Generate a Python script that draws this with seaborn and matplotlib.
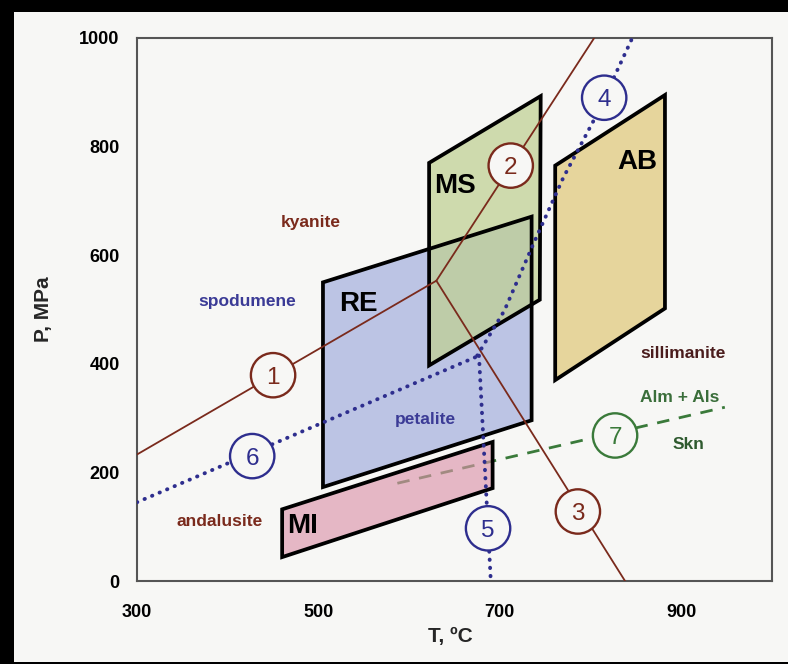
import matplotlib
matplotlib.use("Agg")
import matplotlib.pyplot as plt
from matplotlib.patches import Rectangle
import seaborn as sns
import pandas as pd

# ---- P-T fields (T in degC, P in MPa) ----
re_T = [505, 735, 735, 505]
re_P = [550, 671, 296, 173]
ms_T = [622, 745, 744, 622]
ms_P = [770, 893, 518, 397]
ab_T = [761, 882, 882, 761]
ab_P = [765, 895, 502, 370]
mi_T = [460, 692, 692, 460]
mi_P = [132, 256, 171, 44]

# ---- reaction curves ----
line1_T, line1_P = [300, 630], [233, 553]
line2_T, line2_P = [630, 804], [553, 1000]
line3_T, line3_P = [630, 838], [553, 0]
line4_T = [675, 705, 737, 770, 805, 846]
line4_P = [415, 498, 621, 743, 853, 1000]
line5_T, line5_P = [677, 690], [415, 0]
line6_T, line6_P = [300, 677], [145, 415]
line7_T, line7_P = [587, 948], [180, 320]

# ---- curve number markers ----
marker_ids = ["1", "2", "3", "4", "5", "6", "7"]
marker_T = [450, 712, 786, 815, 687, 427, 827]
marker_P = [379, 765, 128, 890, 97, 230, 268]

# ---- field and mineral labels ----
field_names = ["RE", "MS", "AB", "MI"]
field_T = [544, 651, 851, 483]
field_P = [516, 733, 778, 107]
mineral_names = ["kyanite", "spodumene", "andalusite", "petalite",
                 "sillimanite", "Alm + Als", "Skn"]
mineral_T = [491, 421, 391, 618, 902, 898, 908]
mineral_P = [663, 518, 112, 301, 421, 340, 254]

x_ticks = [300, 500, 700, 900]
y_ticks = [0, 200, 400, 600, 800, 1000]

BROWN = "#7a2a1c"
BLUE = "#2e2e8e"
GREEN = "#3a7a3a"
BG = "#f7f7f5"

sns.set_style("white")
plt.rcParams["font.family"] = ["Liberation Sans", "DejaVu Sans"]
plt.rcParams["font.weight"] = "bold"

fig = plt.figure(figsize=(7.88, 6.64), dpi=100, facecolor=BG)
ax = fig.add_axes([137 / 788, 1 - 581 / 664, 635 / 788, 543 / 664])
ax.set_facecolor(BG)

# filled fields
ax.fill(re_T, re_P, color="#8d9bd6", alpha=0.55, lw=0, zorder=2)
ax.fill(ms_T, ms_P, color="#bfd092", alpha=0.72, lw=0, zorder=2.1)
ax.fill(ab_T, ab_P, color="#e6d59c", lw=0, zorder=2)
ax.fill(mi_T, mi_P, color="#dc94aa", alpha=0.64, lw=0, zorder=2)
for T, P in [(re_T, re_P), (ms_T, ms_P), (ab_T, ab_P), (mi_T, mi_P)]:
    ax.fill(T, P, facecolor="none", edgecolor="black", lw=2.7,
            joinstyle="miter", zorder=3)

def curve(T, P, color, lw, ls, z, cap="butt"):
    df = pd.DataFrame({"T": T, "P": P})
    sns.lineplot(data=df, x="T", y="P", sort=False, estimator=None, ax=ax,
                 color=color, linewidth=lw, linestyle=ls, zorder=z,
                 dash_capstyle=cap)

dots = (0, (0.1, 2.0))
curve(line1_T, line1_P, BROWN, 1.3, "-", 4)
curve(line2_T, line2_P, BROWN, 1.3, "-", 4)
curve(line3_T, line3_P, BROWN, 1.3, "-", 4)
curve(line4_T, line4_P, BLUE, 2.8, dots, 4, "round")
curve(line5_T, line5_P, BLUE, 2.8, dots, 4, "round")
curve(line6_T, line6_P, BLUE, 2.8, dots, 4, "round")
curve(line7_T, line7_P, GREEN, 2.0, (0, (4.5, 3.5)), 1.5)

# numbered circles on the curves
mk = pd.DataFrame({"T": marker_T, "P": marker_P, "id": marker_ids})
mk_colors = [BROWN, BROWN, BROWN, BLUE, BLUE, BLUE, GREEN]
sns.scatterplot(data=mk, x="T", y="P", s=1020, facecolor=BG,
                edgecolor=mk_colors, linewidth=1.7, ax=ax, zorder=5,
                legend=False)
for t, p, s, c in zip(marker_T, marker_P, marker_ids, mk_colors):
    ax.text(t, p, s, ha="center", va="center_baseline", fontsize=17.5,
            fontweight="normal", color=c, zorder=6)

for t, p, s in zip(field_T, field_P, field_names):
    ax.text(t, p, s, ha="center", va="center_baseline", fontsize=20,
            fontweight="bold", color="black", zorder=6)

mineral_colors = [BROWN, "#3b3b96", BROWN, "#3b3b96", "#4a1c1c",
                  "#3a6e3a", "#2f5a2f"]
for t, p, s, c in zip(mineral_T, mineral_P, mineral_names, mineral_colors):
    ax.text(t, p, s, ha="center", va="center_baseline", fontsize=12.5,
            fontweight="bold", color=c, zorder=6)

ax.set_xlim(300, 1000)
ax.set_ylim(0, 1000)
ax.set_xticks(x_ticks)
ax.set_yticks(y_ticks)
ax.tick_params(axis="both", direction="out", length=3.6, width=1.2,
               color="#555555", labelsize=13, labelcolor="black")
ax.tick_params(axis="x", pad=13)
ax.tick_params(axis="y", pad=9)
for lab in ax.get_xticklabels() + ax.get_yticklabels():
    lab.set_fontweight("bold")
for sp in ax.spines.values():
    sp.set_visible(True)
    sp.set_color("#555555")
    sp.set_linewidth(1.5)

ax.set_xlabel("T, ºC", fontsize=15, fontweight="bold")
ax.set_ylabel("P, MPa", fontsize=15, fontweight="bold")
ax.xaxis.set_label_coords(0.493, -0.084)
ax.yaxis.set_label_coords(-0.133, 0.5)

# black scan frame
for x0, y0, w, h in [(0, 0, 14 / 788, 1), (0, 1 - 12 / 664, 1, 12 / 664),
                     (0, 0, 1, 2.5 / 664)]:
    fig.add_artist(Rectangle((x0, y0), w, h, transform=fig.transFigure,
                             facecolor="black", edgecolor="none", zorder=10))

fig.savefig("out.png", dpi=100, facecolor=BG)
